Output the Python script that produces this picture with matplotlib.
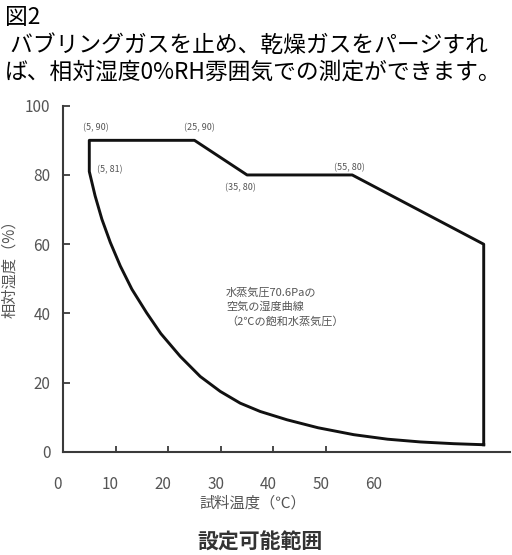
import matplotlib

matplotlib.use("Agg")

import matplotlib.pyplot as plt
from matplotlib.transforms import ScaledTranslation

plt.rcParams["font.family"] = ["Noto Sans CJK JP", "DejaVu Sans"]

# humidity curve of air at 70.6 Pa water vapour pressure
curve_temp = [5, 6.1, 7.4, 9.0, 10.9, 13.1, 15.9, 18.6, 22.3, 26.1, 29.9,
              33.7, 37.5, 42.6, 48.5, 55.3, 61.7, 68, 74.3, 80]
curve_rh = [81, 74, 67.2, 60.5, 53.7, 47, 40.2, 34.2, 27.6, 21.8, 17.5,
            14.1, 11.7, 9.3, 7.0, 5.0, 3.7, 2.9, 2.4, 2.1]

# upper boundary of the settable range
upper_temp = [5, 25, 35, 55, 80]
upper_rh = [90, 90, 80, 80, 60]

corner_labels = ["(5, 90)", "(25, 90)", "(5, 81)", "(35, 80)", "(55, 80)"]
corner_points = [(5, 90), (25, 90), (5, 81), (35, 80), (55, 80)]

x_ticks = [0, 10, 20, 30, 40, 50, 60]
y_ticks = [0, 20, 40, 60, 80, 100]

title_lines = [
    "図2",
    " バブリングガスを止め、乾燥ガスをパージすれ",
    "ば、相対湿度0%RH雰囲気での測定ができます。",
]

W, H = 512, 555
figure = plt.figure(figsize=(W / 100, H / 100), dpi=100)
axes = figure.add_axes([63 / W, 1 - 452 / H, (510 - 63) / W, (452 - 105.7) / H])

# one closed outline: curve from the right end back to (5, 81), then the upper edge
outline_t = curve_temp[::-1] + upper_temp + [curve_temp[-1]]
outline_rh = curve_rh[::-1] + upper_rh + [curve_rh[-1]]
axes.plot(outline_t, outline_rh, color="#111111", linewidth=2.1,
          solid_joinstyle="round", clip_on=False)

axes.set_xlim(0, 85)
axes.set_ylim(0, 100)

for side in ("top", "right"):
    axes.spines[side].set_visible(False)
for side in ("left", "bottom"):
    axes.spines[side].set_color("#3a3a3a")
    axes.spines[side].set_linewidth(1.5)

axes.set_xticks(x_ticks)
axes.set_yticks(y_ticks)
axes.tick_params(axis="x", direction="in", length=4, width=1.3, color="#3a3a3a",
                 pad=17, labelsize=11, labelcolor="#555555")
axes.tick_params(axis="y", direction="in", length=5, width=1.3, color="#3a3a3a",
                 pad=9, labelsize=11, labelcolor="#555555")
axes.xaxis.get_major_ticks()[-1].tick1line.set_visible(False)

shift = ScaledTranslation(-0.05, 0, figure.dpi_scale_trans)
for label in axes.get_xticklabels():
    label.set_transform(label.get_transform() + shift)

label_offsets = [(1.3, 3.6, "center"), (1.0, 3.6, "center"), (1.5, 0.5, "left"),
                 (-1.2, -3.8, "center"), (-0.5, 2.1, "center")]
for text, (px, py), (dx, dy, ha) in zip(corner_labels, corner_points, label_offsets):
    axes.text(px + dx, py + dy, text, fontsize=6.5, color="#555555",
              ha=ha, va="center")

axes.text(31, 47.5, "水蒸気圧70.6Paの\n空気の湿度曲線\n（2℃の飽和水蒸気圧）",
          fontsize=8, color="#555555", ha="left", va="top", linespacing=1.45)

figure.text(10 / W, 1 - 265 / H, "相対湿度（%）", rotation=90, fontsize=11,
            color="#555555", ha="center", va="center")
figure.text(253 / W, 1 - 503 / H, "試料温度（℃）", fontsize=11,
            color="#555555", ha="center", va="center")
figure.text(260 / W, 1 - 542 / H, "設定可能範囲", fontsize=15, fontweight="bold",
            color="#333333", ha="center", va="center")

for line, y_px in zip(title_lines, [17, 45, 72]):
    figure.text(5 / W, 1 - y_px / H, line, fontsize=16.4, color="black",
                ha="left", va="center")

figure.savefig("out.png", dpi=100)
